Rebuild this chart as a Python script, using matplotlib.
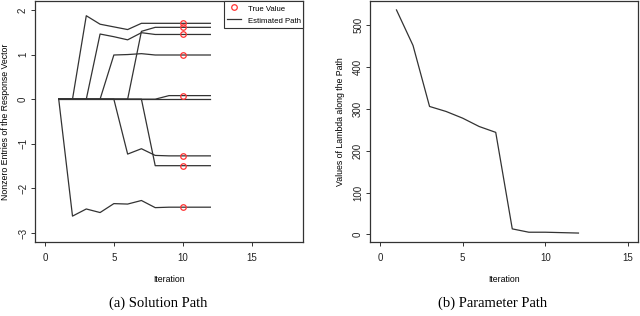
import matplotlib
matplotlib.use("Agg")
import matplotlib.pyplot as plt

# datos de la trayectoria de la solucion (iteraciones 1..12)
iteraciones = [1, 2, 3, 4, 5, 6, 7, 8, 9, 10, 11, 12]
caminos = [
    [0, -2.62, -2.46, -2.54, -2.34, -2.35, -2.27, -2.43, -2.42, -2.42, -2.42, -2.42],
    [0, 0, 1.87, 1.68, 1.62, 1.56, 1.70, 1.70, 1.70, 1.70, 1.70, 1.70],
    [0, 0, 0, 1.46, 1.40, 1.33, 1.49, 1.45, 1.45, 1.45, 1.45, 1.45],
    [0, 0, 0, 0, 0.99, 1.00, 1.02, 0.99, 0.99, 0.99, 0.99, 0.99],
    [0, 0, 0, 0, 0, 0, 1.52, 1.61, 1.61, 1.61, 1.61, 1.61],
    [0, 0, 0, 0, 0, -1.23, -1.11, -1.26, -1.27, -1.27, -1.27, -1.27],
    [0, 0, 0, 0, 0, 0, 0, -1.49, -1.49, -1.49, -1.49, -1.49],
    [0, 0, 0, 0, 0, 0, 0, 0, 0.08, 0.08, 0.08, 0.08],
    [0, 0, 0, 0, 0, 0, 0, 0, 0, 0, 0, 0],
]
iter_verdad = 10
valores_verdad = [1.71, 1.61, 1.45, 0.99, 0.08, -1.27, -1.49, -2.42]

# valores de lambda a lo largo del camino
lambdas = [537, 452, 306, 294, 278, 258, 244, 13, 5, 5, 4, 3]

gris = "#333333"
plt.rcParams["font.family"] = ["Liberation Sans", "DejaVu Sans"]

fig = plt.figure(figsize=(6.4, 3.16), dpi=100)
ax1 = fig.add_axes([35 / 640, 74 / 316, 268 / 640, 241 / 316])
ax2 = fig.add_axes([370 / 640, 74 / 316, 268 / 640, 241 / 316])


def estilo_r(ax):
    for s in ax.spines.values():
        s.set_color(gris)
        s.set_linewidth(0.9)
    ax.tick_params(direction="out", length=3, width=0.7, color=gris,
                   labelsize=7, labelcolor="#222222")
    ax.tick_params(axis="x", pad=5)
    ax.tick_params(axis="y", pad=2)
    for lab in ax.get_yticklabels():
        lab.set_rotation(90)
        lab.set_va("center")
    ax.yaxis.set_label_coords(-0.094, 0.5)
    ax.xaxis.set_label_coords(0.5, -0.137)


# panel (a)
for c in caminos:
    ax1.plot(iteraciones, c, color=gris, lw=0.9)
ax1.plot([iter_verdad] * len(valores_verdad), valores_verdad, "o", ms=4,
         mfc="none", mec="#ff3333", mew=0.9, label="True Value")
ax1.plot([], [], color=gris, lw=0.9, label="Estimated Path")
ax1.set_xlim(-0.72, 18.72)
ax1.set_ylim(-3.2, 2.2)
ax1.set_xticks([0, 5, 10, 15])
ax1.set_yticks([-3, -2, -1, 0, 1, 2])
ax1.set_xlabel("Iteration", fontsize=6.3)
ax1.set_ylabel("Nonzero Entries of the Response Vector", fontsize=6.3)
estilo_r(ax1)
leg = ax1.legend(loc="upper right", fontsize=5.6, frameon=True, fancybox=False,
                 borderaxespad=0, edgecolor=gris, framealpha=1,
                 handlelength=1.8, handleheight=1.7, borderpad=0.3,
                 labelspacing=0.2, handletextpad=0.9)
leg.get_frame().set_linewidth(0.8)

# panel (b)
ax2.plot(iteraciones, lambdas, color=gris, lw=0.9)
ax2.set_xlim(-0.6, 15.6)
ax2.set_ylim(-18.4, 558.4)
ax2.set_xticks([0, 5, 10, 15])
ax2.set_yticks([0, 100, 200, 300, 400, 500])
ax2.set_xlabel("Iteration", fontsize=6.3)
ax2.set_ylabel("Values of Lambda along the Path", fontsize=6.3)
estilo_r(ax2)

fig.text(158 / 640, 1 - 303 / 316, "(a) Solution Path", ha="center", va="center",
         fontsize=10.5, family="Liberation Serif")
fig.text(493 / 640, 1 - 303 / 316, "(b) Parameter Path", ha="center", va="center",
         fontsize=10.5, family="Liberation Serif")

fig.savefig("out.png", dpi=100)
